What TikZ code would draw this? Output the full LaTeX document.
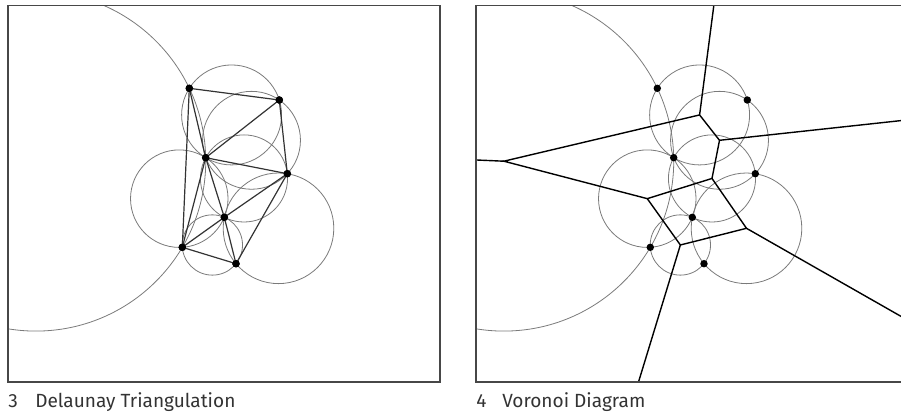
\documentclass[tikz,border=0pt]{standalone}
\usepackage{fontspec}
\setsansfont{Fira Sans}
\tikzset{
  circ/.style={draw=black!52, line width=0.6pt},
  tri/.style={draw=black!80, line width=0.9pt},
  vor/.style={draw=black, line width=1.05pt},
  dot/.style={circle, fill=black, inner sep=0pt, minimum size=5.6pt},
  panelframe/.style={draw=black!72, line width=1.1pt},
  captext/.style={anchor=base west, inner sep=0pt, text=black!80, font=\sffamily\fontsize{14.3}{17}\selectfont},
}
\begin{document}
\begin{tikzpicture}[x=0.75pt,y=-0.75pt]
\useasboundingbox (0,0) rectangle (901,414);
% ---------------- left panel: Delaunay triangulation
\begin{scope}
  \clip (8,5.5) rectangle (440,382);
  \coordinate (lv1) at (231.6,114.94);
  \coordinate (lv2) at (251.51,140.30);
  \coordinate (lv3) at (244.0,178.45);
  \coordinate (lv4) at (179.27,198.65);
  \coordinate (lv5) at (212.36,244.99);
  \coordinate (lv6) at (278.50,228.31);
  \coordinate (lv7) at (35.86,161.20);
  \draw[circ] (lv1) circle[radius=37.49pt];
  \draw[circ] (lv2) circle[radius=36.71pt];
  \draw[circ] (lv3) circle[radius=32.67pt];
  \draw[circ] (lv4) circle[radius=36.56pt];
  \draw[circ] (lv5) circle[radius=22.61pt];
  \draw[circ] (lv6) circle[radius=41.48pt];
  \draw[circ] (lv7) circle[radius=127.41pt];
\end{scope}
\node[dot] (l1) at (189.3,88.3) {};
\node[dot] (l2) at (279.3,100) {};
\node[dot] (l3) at (205.7,157.7) {};
\node[dot] (l4) at (287.3,173.7) {};
\node[dot] (l5) at (224.3,217.3) {};
\node[dot] (l6) at (182.3,247.3) {};
\node[dot] (l7) at (236,263.7) {};
\draw[tri] (l1.center) -- (l2.center) -- (l4.center) -- (l7.center) -- (l6.center) -- (l1.center);
\draw[tri] (l1.center) -- (l3.center) -- (l2.center);
\draw[tri] (l3.center) -- (l4.center) -- (l5.center) -- (l3.center) -- (l6.center) -- (l5.center) -- (l7.center);
\node[dot] at (l1) {};
\node[dot] at (l2) {};
\node[dot] at (l3) {};
\node[dot] at (l4) {};
\node[dot] at (l5) {};
\node[dot] at (l6) {};
\node[dot] at (l7) {};
\draw[panelframe] (8,5.5) rectangle (440,382);
\node[captext] (n3) at (8,407) {3};
\node[captext] (t3) at (35,407) {Delaunay Triangulation};
% ---------------- right panel: Voronoi diagram
\begin{scope}[xshift=351pt]
  \begin{scope}
    \clip (8,5.5) rectangle (440,382);
    \coordinate (rv1) at (231.6,114.94);
    \coordinate (rv2) at (251.51,140.30);
    \coordinate (rv3) at (244.0,178.45);
    \coordinate (rv4) at (179.27,198.65);
    \coordinate (rv5) at (212.36,244.99);
    \coordinate (rv6) at (278.50,228.31);
    \coordinate (rv7) at (35.86,161.20);
    \coordinate (re1) at (245.83,5.5);
    \coordinate (re2) at (440,119.84);
    \coordinate (re3) at (440,320.36);
    \coordinate (re4) at (170.51,382);
    \coordinate (re5) at (8,159.97);
    \draw[circ] (rv1) circle[radius=37.49pt];
    \draw[circ] (rv2) circle[radius=36.71pt];
    \draw[circ] (rv3) circle[radius=32.67pt];
    \draw[circ] (rv4) circle[radius=36.56pt];
    \draw[circ] (rv5) circle[radius=22.61pt];
    \draw[circ] (rv6) circle[radius=41.48pt];
    \draw[circ] (rv7) circle[radius=127.41pt];
    \draw[vor] (re1) -- (rv1) -- (rv2) -- (rv3) -- (rv4) -- (rv5) -- (rv6) -- (rv3);
    \draw[vor] (rv1) -- (rv7) -- (rv4);
    \draw[vor] (rv2) -- (re2);
    \draw[vor] (rv6) -- (re3);
    \draw[vor] (rv5) -- (re4);
    \draw[vor] (rv7) -- (re5);
  \end{scope}
  \node[dot] (r1) at (189.3,88.3) {};
  \node[dot] (r2) at (279.3,100) {};
  \node[dot] (r3) at (205.7,157.7) {};
  \node[dot] (r4) at (287.3,173.7) {};
  \node[dot] (r5) at (224.3,217.3) {};
  \node[dot] (r6) at (182.3,247.3) {};
  \node[dot] (r7) at (236,263.7) {};
  \draw[panelframe] (8,5.5) rectangle (440,382);
  \node[captext] (n4) at (8,407) {4};
  \node[captext] (t4) at (34,407) {Voronoi Diagram};
\end{scope}
\end{tikzpicture}
\end{document}
